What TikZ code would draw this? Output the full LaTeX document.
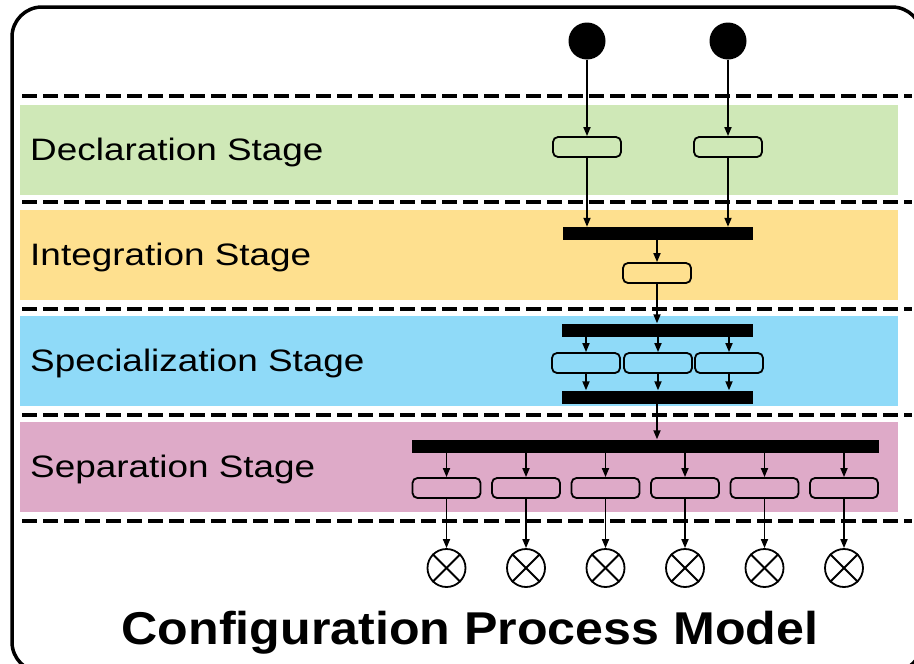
\documentclass[tikz,border=0pt]{standalone}
\usepackage{fontspec}
\setmainfont{Liberation Sans}
\usetikzlibrary{arrows.meta}
\definecolor{declgreen}{HTML}{CFE8B7}
\definecolor{integyellow}{HTML}{FEE08F}
\definecolor{specblue}{HTML}{8FDAF8}
\definecolor{seppink}{HTML}{DEAAC8}
\begin{document}
\begin{tikzpicture}[x=1pt,y=-1pt,
  act/.style={draw, line width=1.8pt, rounded corners=5pt, minimum width=68pt, minimum height=20pt, inner sep=0pt},
  bar/.style={fill=black, inner sep=0pt, minimum height=13pt},
  flow/.style={line width=1.7pt, -{Triangle[length=9pt,width=7pt]}},
  lane/.style={line width=4.5pt, dash pattern=on 15pt off 6pt},
  stage/.style={anchor=base west, inner sep=0pt, xscale=1.19, font=\fontsize{31}{37}\selectfont},
  start/.style={circle, fill=black, minimum size=37pt, inner sep=0pt},
  final/.style={circle, draw, line width=1.8pt, minimum size=38pt, inner sep=0pt}]
\useasboundingbox (0,0) rectangle (914,664);
\draw[line width=3.5pt, rounded corners=30pt] (12,7) rectangle (922,672);

\fill[declgreen] (20,105) rectangle (898,195);
\fill[integyellow] (20,210) rectangle (898,300);
\fill[specblue] (20,316) rectangle (898,406);
\fill[seppink] (20,422) rectangle (898,512);
\foreach \y in {96,202,309,415,521}
  \draw[lane] (22,\y) -- (912,\y);

\node[stage] (decl) at (30,160) {Declaration Stage};
\node[stage] (integ) at (30,265) {Integration Stage};
\node[stage] (spec) at (30,371) {Specialization Stage};
\node[stage] (sep) at (30,477) {Separation Stage};

\node[start] (s1) at (587,41) {};
\node[start] (s2) at (728,41) {};
\node[act] (d1) at (587,147) {};
\node[act] (d2) at (728,147) {};
\node[bar, minimum width=190pt] (join) at (658,233.5) {};
\node[act] (i1) at (657,273) {};
\node[bar, minimum width=191pt] (fork) at (657.5,330) {};
\foreach \x [count=\i] in {586,658,729}
  \node[act] (sp\i) at (\x,363) {};
\node[bar, minimum width=191pt] (merge) at (657.5,397) {};
\node[bar, minimum width=467pt] (split) at (645.5,446) {};
\foreach \x [count=\i] in {446.5,526,605.5,685,764.5,844} {
  \node[act] (p\i) at (\x,488) {};
  \node[final] (e\i) at (\x,568) {};
  \draw[line width=1.8pt] (e\i.north east) -- (e\i.south west);
  \draw[line width=1.8pt] (e\i.north west) -- (e\i.south east);
}

\draw[flow] (s1) -- (d1);
\draw[flow] (s2) -- (d2);
\draw[flow] (d1) -- (d1 |- join.north);
\draw[flow] (d2) -- (d2 |- join.north);
\draw[flow] (join.south -| i1) -- (i1);
\draw[flow] (i1) -- (i1 |- fork.north);
\foreach \i in {1,2,3} {
  \draw[flow] (fork.south -| sp\i) -- (sp\i);
  \draw[flow] (sp\i) -- (sp\i |- merge.north);
}
\draw[flow] (merge.south -| i1) -- (split.north -| i1);
\foreach \i in {1,...,6} {
  \draw[flow] (split.south -| p\i) -- (p\i);
  \draw[flow] (p\i) -- (e\i);
}

\node[font=\fontsize{46}{50}\selectfont\bfseries, xscale=1.09, anchor=base, inner sep=0pt] (title) at (470,644) {Configuration Process Model};
\end{tikzpicture}
\end{document}
